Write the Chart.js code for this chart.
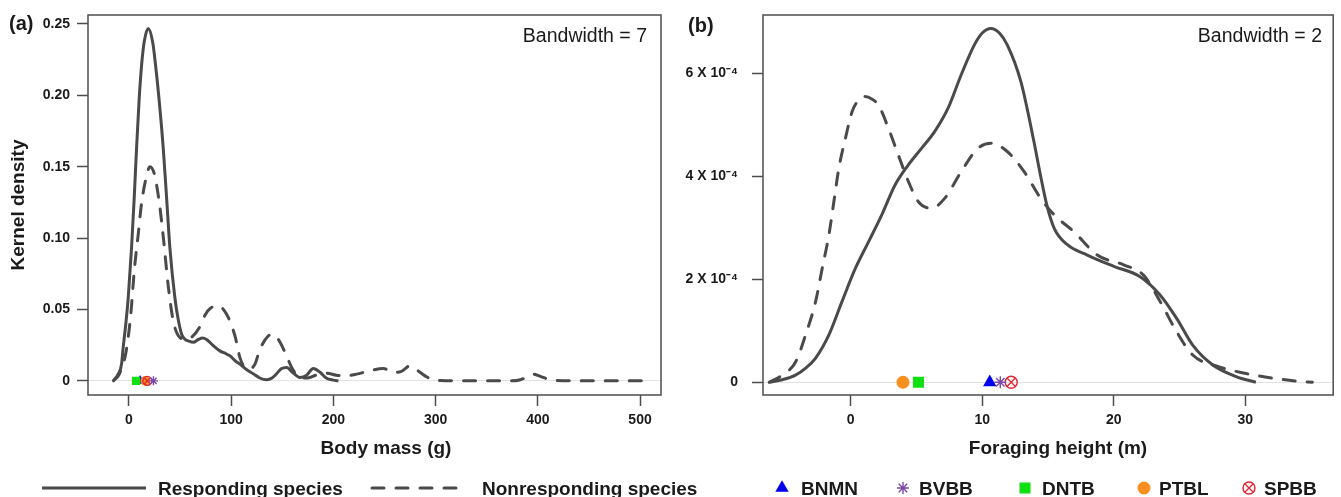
<!DOCTYPE html>
<html>
<head>
<meta charset="utf-8">
<script src="https://cdn.jsdelivr.net/npm/chart.js@4.4.0/dist/chart.umd.min.js"></script>
<style>
    body { margin: 0; width: 1341px; height: 497px; position: relative; overflow: hidden; background: #fff;
           font-family: "Liberation Sans", Arial, sans-serif; color: #1a1a1a; }
    canvas { position: absolute; top: 0; }
    #chartA { left: 0; }
    #chartB { left: 680px; }
    .txt { position: absolute; white-space: nowrap; line-height: 1; z-index: 2; }
    .panel { font-size: 20px; font-weight: bold; }
    .bw { font-size: 19.5px; }
    .xt { font-size: 19px; font-weight: bold; top: 437.5px; transform: translateX(-50%); }
    .leg { font-size: 19px; font-weight: bold; top: 479px; }
</style>
</head>
<body>
<canvas id="chartA" width="680" height="497"></canvas>
<canvas id="chartB" width="661" height="497"></canvas>

<div class="txt panel" style="left:9px; top:13px;">(a)</div>
<div class="txt panel" style="left:688px; top:15px;">(b)</div>
<div class="txt bw" style="right:694px; top:26px;">Bandwidth = 7</div>
<div class="txt bw" style="right:19px; top:26px;">Bandwidth = 2</div>
<div class="txt xt" style="left:386px;">Body mass (g)</div>
<div class="txt xt" style="left:1058px;">Foraging height (m)</div>

<div class="txt leg" style="left:158px;">Responding species</div>
<div class="txt leg" style="left:482px;">Nonresponding species</div>
<div class="txt leg" style="left:801px;">BNMN</div>
<div class="txt leg" style="left:919px;">BVBB</div>
<div class="txt leg" style="left:1042px;">DNTB</div>
<div class="txt leg" style="left:1159px;">PTBL</div>
<div class="txt leg" style="left:1264px;">SPBB</div>

<script>
// Panel (a): kernel density of body mass (g)
const respMassX = [-15.3, -10.5, -7.2, -5.6, -3, -0.65, 2.6, 5.2, 7.5, 10.1, 12.4, 15, 18.9, 23.2, 26.1, 29.4, 33.6, 36.9, 40.1, 45,
    48, 51.6, 55, 58, 63, 68, 72, 76, 82, 89, 95, 99, 104, 108.6, 115, 121.6, 128, 134.7, 140, 144.5,
    149, 154.3, 160, 167.3, 174, 180.3, 187, 193, 200, 205];
const respMassY = [0, 0.0047, 0.0117, 0.0233, 0.04, 0.0582, 0.0932, 0.128, 0.163, 0.198, 0.221, 0.2374, 0.2468, 0.2374, 0.221, 0.198, 0.163, 0.128, 0.0932, 0.0582,
    0.044, 0.0326, 0.029, 0.028, 0.027, 0.029, 0.030, 0.029, 0.025, 0.021, 0.019, 0.0175, 0.014, 0.0117, 0.008, 0.005, 0.002, 0.0008, 0.002, 0.005,
    0.0085, 0.0094, 0.006, 0.0024, 0.004, 0.0087, 0.006, 0.002, 0.0005, 0];
const nonrespMassX = [-15, -10, -6, -2.9, 1.6, 5.5, 9.1, 12.4, 17.6, 20.5, 25.1, 30, 33.9, 38.5, 43.4, 50, 56, 62, 69.5, 74.4,
    80, 87.4, 95.6, 103.8, 108.6, 113.5, 118, 123.3, 128.2, 136.3, 141.2, 146.1, 154.3, 159.2, 167.3, 175, 183, 193, 203, 212,
    222.7, 235, 248.8, 258.6, 266, 275, 284.7, 292, 297.8, 305, 320, 350, 375, 383, 389, 395.6, 403, 411, 418.5, 440, 480, 510];
const nonrespMassY = [0, 0.004, 0.011, 0.0198, 0.0447, 0.079, 0.1024, 0.1245, 0.1443, 0.150, 0.1443, 0.1234, 0.099, 0.0664, 0.0419, 0.0303, 0.029, 0.031, 0.038, 0.046,
    0.051, 0.0524, 0.0466, 0.0314, 0.0163, 0.0094, 0.0085, 0.0117, 0.0221, 0.0314, 0.0325, 0.0291, 0.0175, 0.0094, 0.0024, 0.002, 0.004, 0.0054, 0.004, 0.0035,
    0.0047, 0.007, 0.0087, 0.006, 0.0065, 0.0105, 0.006, 0.0025, 0.0008, 0.0002, 0, 0, 0, 0.0008, 0.0025, 0.0047, 0.003, 0.001, 0.0002, 0, 0, 0];

// Panel (b): kernel density of foraging height (m), density in units of 10^-4
const respHeightX = [-6.2, -5.2, -4.2, -3.4, -2.67, -1.66, -0.66, 0.35, 1.36, 2.36, 3.37, 4.38, 5.38, 6.39, 7.4, 8.4, 9.4, 10.0, 10.66, 11.3,
    11.9, 12.93, 13.93, 14.4, 14.9, 15.47, 16.47, 17.98, 20, 22, 23.5, 24.78, 26, 27.5, 29.3, 30.8];
const respHeightY = [0, 0.05, 0.14, 0.28, 0.47, 0.92, 1.57, 2.21, 2.73, 3.25, 3.83, 4.22, 4.54, 4.87, 5.32, 5.97, 6.55, 6.78, 6.87, 6.78,
    6.55, 5.84, 4.67, 4.05, 3.45, 2.99, 2.67, 2.47, 2.25, 2.05, 1.70, 1.24, 0.72, 0.34, 0.11, 0];
const nonrespHeightX = [-6.2, -5.2, -4.18, -3.43, -2.67, -2.17, -1.66, -1.28, -0.9, -0.4, 0.1, 0.6, 1.1, 1.6, 2.11, 2.87, 3.62, 4.38, 5.13, 6.14,
    7.14, 8.4, 9.66, 10.66, 11.9, 13.18, 14.44, 15.47, 16.98, 18.74, 20.75, 22.26, 23.52, 24.78, 26, 28, 30.06, 32.08, 34, 35.1];
const nonrespHeightY = [0, 0.14, 0.4, 0.92, 1.57, 2.21, 2.86, 3.51, 4.16, 4.74, 5.25, 5.48, 5.55, 5.5, 5.38, 4.93, 4.41, 3.9, 3.51, 3.38,
    3.57, 4.09, 4.54, 4.64, 4.48, 4.09, 3.57, 3.25, 2.92, 2.47, 2.28, 2.08, 1.57, 0.98, 0.53, 0.30, 0.17, 0.08, 0.02, 0];

// Species means plotted on the zero line
const species = ['BNMN', 'BVBB', 'DNTB', 'PTBL', 'SPBB'];
const speciesMass = [11, 24, 7, 16, 18];
const speciesHeight = [10.57, 11.37, 5.15, 3.97, 12.2];

// Axis ticks
const xTicksA = [0, 100, 200, 300, 400, 500];
const yTicksA = [0, 0.05, 0.10, 0.15, 0.20, 0.25];
const yLabelsA = ['0', '0.05', '0.10', '0.15', '0.20', '0.25'];
const xTicksB = [0, 10, 20, 30];
const yTicksB = [0, 2, 4, 6];
const yLabelsB = ['0', '2 X 10\u207B\u2074', '4 X 10\u207B\u2074', '6 X 10\u207B\u2074'];

const INK = '#1a1a1a';
const AXIS = '#4d4d4d';
const CURVE = '#4a4a4a';
const speciesStyle = {
    BNMN: { pointStyle: 'triangle', color: '#0000ee', fill: true },
    BVBB: { pointStyle: 'star', color: '#7d48a8', fill: false },
    DNTB: { pointStyle: 'rect', color: '#10e010', fill: true },
    PTBL: { pointStyle: 'circle', color: '#f7901e', fill: true },
    SPBB: { pointStyle: 'circle', color: '#e2242f', fill: false }
};
// drawing order, top first
const drawOrder = ['BVBB', 'SPBB', 'DNTB', 'PTBL', 'BNMN'];

Chart.defaults.font.family = '"Liberation Sans", Arial, sans-serif';
Chart.defaults.color = INK;

function toPoints(xs, ys) {
    return xs.map((x, i) => ({ x: x, y: ys[i] }));
}

function markerRadius(code) {
    const st = speciesStyle[code];
    return { triangle: 7.7, star: 6, rect: 7.8, circle: code === 'SPBB' ? 6 : 6.5 }[st.pointStyle];
}

function curve(xs, ys, dashed) {
    return {
        type: 'line',
        data: toPoints(xs, ys),
        borderColor: CURVE,
        borderWidth: 3,
        borderDash: dashed ? [12, 12] : [],
        borderCapStyle: dashed ? 'round' : 'butt',
        pointRadius: 0,
        cubicInterpolationMode: 'monotone',
        fill: false
    };
}

// Marker datasets; SPBB gets an extra cross on top of its open circle
function markerSets(values, scale) {
    const sets = [];
    drawOrder.forEach(code => {
        const i = species.indexOf(code);
        const st = speciesStyle[code];
        const radius = markerRadius(code) * scale;
        if (code === 'SPBB') {
            sets.push({
                type: 'scatter', data: [{ x: values[i], y: 0 }],
                pointStyle: 'crossRot', pointRadius: radius, borderColor: st.color, borderWidth: 1.3
            });
        }
        sets.push({
            type: 'scatter',
            data: [{ x: values[i], y: 0 }],
            pointStyle: st.pointStyle,
            pointRadius: radius,
            backgroundColor: st.fill ? st.color : 'rgba(0,0,0,0)',
            borderColor: st.color,
            borderWidth: st.fill ? 0 : 1.4
        });
    });
    return sets;
}

const boxPlugin = {
    id: 'box',
    afterDraw(chart) {
        const { ctx, chartArea: a } = chart;
        ctx.save();
        ctx.strokeStyle = AXIS;
        ctx.lineWidth = 1.5;
        ctx.strokeRect(a.left, a.top, a.right - a.left, a.bottom - a.top);
        ctx.restore();
    }
};

// Legend keys below the panels (labels are html text)
const keyPlugin = {
    id: 'keys',
    afterDraw(chart, args, opts) {
        const ctx = chart.ctx;
        ctx.save();
        (opts.lines || []).forEach(l => {
            ctx.beginPath();
            ctx.strokeStyle = CURVE;
            ctx.lineWidth = 3;
            ctx.lineCap = l.dashed ? 'round' : 'butt';
            ctx.setLineDash(l.dashed ? [12, 12] : []);
            ctx.moveTo(l.x1, l.y);
            ctx.lineTo(l.x2, l.y);
            ctx.stroke();
        });
        ctx.setLineDash([]);
        (opts.symbols || []).forEach(s => {
            const st = speciesStyle[s.code];
            const r = markerRadius(s.code);
            ctx.fillStyle = st.fill ? st.color : 'rgba(0,0,0,0)';
            ctx.strokeStyle = st.color;
            ctx.lineWidth = 1.4;
            Chart.helpers.drawPoint(ctx, { pointStyle: st.pointStyle, radius: r, borderWidth: st.fill ? 0 : 1.4, rotation: 0 }, s.x, s.y);
            if (s.code === 'SPBB') {
                ctx.lineWidth = 1.3;
                Chart.helpers.drawPoint(ctx, { pointStyle: 'crossRot', radius: r, borderWidth: 1.3, rotation: 0 }, s.x, s.y);
            }
        });
        ctx.restore();
    }
};

function axes(opts) {
    return {
        x: {
            type: 'linear',
            min: opts.xMin, max: opts.xMax,
            afterBuildTicks: s => { s.ticks = opts.xTicks.map(v => ({ value: v })); },
            afterFit: s => { s.height = 102; s.paddingLeft = 0; s.paddingRight = 0; },
            border: { display: false },
            grid: { display: true, drawOnChartArea: false, drawTicks: true, tickLength: 11, tickColor: AXIS, tickWidth: 1.5 },
            ticks: { padding: 6, autoSkip: false, maxRotation: 0, color: INK,
                     font: { size: 14, weight: 'bold' }, callback: v => String(v) },
            title: { display: false }
        },
        y: {
            type: 'linear',
            min: opts.yMin, max: opts.yMax,
            afterBuildTicks: s => { s.ticks = opts.yTicks.map(v => ({ value: v })); },
            // fixed width, and no extra room for the top/bottom labels
            afterFit: s => { s.width = opts.yWidth; s.paddingTop = 0; s.paddingBottom = 0; },
            border: { display: false },
            grid: {
                display: true, drawOnChartArea: true, drawTicks: true, tickLength: 11,
                tickColor: AXIS, tickWidth: 1.5, lineWidth: 1,
                color: c => (c.tick && c.tick.value === 0) ? '#e3e3e3' : 'rgba(0,0,0,0)'
            },
            ticks: { padding: opts.yPad, color: INK, font: { size: 14, weight: 'bold' },
                     callback: (v, i) => opts.yLabels[i] },
            title: { display: !!opts.yTitle, text: opts.yTitle || '', color: INK,
                     font: { size: 19, weight: 'bold' }, padding: { top: 7, bottom: 0 } }
        }
    };
}

const common = {
    responsive: false,
    animation: false,
    events: [],
    plugins: { legend: { display: false }, tooltip: { enabled: false } }
};

new Chart(document.getElementById('chartA'), {
    type: 'line',
    data: {
        datasets: [
            ...markerSets(speciesMass, 0.75),
            curve(respMassX, respMassY, false),
            curve(nonrespMassX, nonrespMassY, true)
        ]
    },
    options: {
        ...common,
        layout: { padding: { top: 15, right: 19, left: 0, bottom: 0 } },
        scales: axes({
            xMin: -40, xMax: 520.5, xTicks: xTicksA,
            yMin: -0.0099, yMax: 0.2562, yTicks: yTicksA, yLabels: yLabelsA,
            yWidth: 88, yPad: 7, yTitle: 'Kernel density'
        }),
        plugins: {
            ...common.plugins,
            keys: { lines: [ { x1: 42, x2: 146, y: 488, dashed: false }, { x1: 372, x2: 468, y: 488, dashed: true } ] }
        }
    },
    plugins: [boxPlugin, keyPlugin]
});

new Chart(document.getElementById('chartB'), {
    type: 'line',
    data: {
        datasets: [
            ...markerSets(speciesHeight, 1),
            curve(respHeightX, respHeightY, false),
            curve(nonrespHeightX, nonrespHeightY, true)
        ]
    },
    options: {
        ...common,
        layout: { padding: { top: 15, right: 3, left: 0, bottom: 0 } },
        scales: axes({
            xMin: -6.67, xMax: 36.68, xTicks: xTicksB,
            yMin: -0.247, yMax: 7.13, yTicks: yTicksB, yLabels: yLabelsB,
            yWidth: 83, yPad: 14, yTitle: ''
        }),
        plugins: {
            ...common.plugins,
            keys: {
                symbols: [
                    { code: 'BNMN', x: 102, y: 488 },
                    { code: 'BVBB', x: 223, y: 488 },
                    { code: 'DNTB', x: 345, y: 488 },
                    { code: 'PTBL', x: 464, y: 488 },
                    { code: 'SPBB', x: 569, y: 488 }
                ]
            }
        }
    },
    plugins: [boxPlugin, keyPlugin]
});
</script>
</body>
</html>
